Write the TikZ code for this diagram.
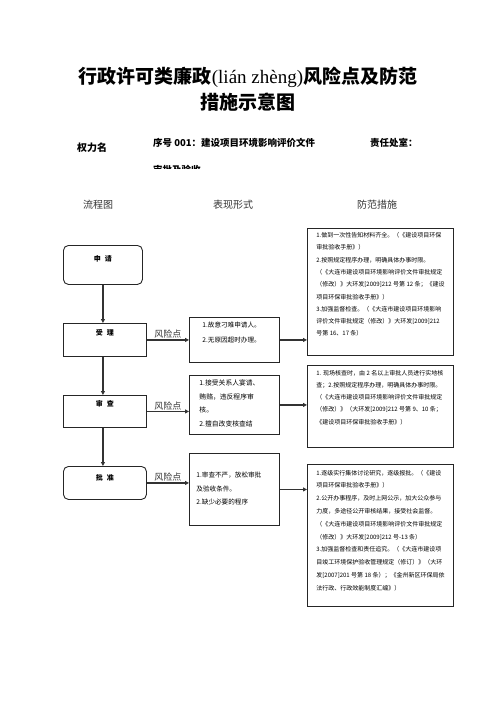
\documentclass[tikz,border=0pt]{standalone}
\usepackage{fontspec}
\setmainfont{Liberation Serif}
\newfontfamily\cjk{Noto Sans CJK SC}
\usetikzlibrary{arrows.meta}
\newcommand\tbox[5]{\parbox[c][#2][t]{#1}{\vspace*{#3}\raggedright\leftskip=#4\relax #5}}
\begin{document}
\begin{tikzpicture}[x=1pt,y=-1pt,
  conn/.style={draw=black!80, line width=1.1pt, -{Triangle[length=4pt,width=4pt]}},
  flowbox/.style={draw=black!85, line width=0.9pt, inner sep=0pt, anchor=north west,
    font=\cjk\bfseries\fontsize{7}{8}\selectfont, align=center},
  riskbox/.style={draw=black!85, line width=0.9pt, inner sep=0pt, anchor=north west},
  infobox/.style={draw=black!85, line width=0.9pt, inner sep=0pt, anchor=north west,
    font=\cjk\fontsize{6}{12.3}\selectfont},
  risklabel/.style={above, inner sep=1pt, font=\cjk\fontsize{9}{10}\selectfont, text=black!80},
  header/.style={anchor=base west, inner sep=0pt, font=\cjk\fontsize{10}{12}\selectfont, text=black!80}]
\useasboundingbox (0,0) rectangle (496,702);

% title
\node[font=\cjk\bfseries\fontsize{19}{22}\selectfont] (t1) at (248,77) {行政许可类廉政{\normalfont(lián zhèng)}风险点及防范};
\node[font=\cjk\bfseries\fontsize{19}{22}\selectfont] (t2) at (248,102) {措施示意图};

% info row
\node[anchor=base west, inner sep=0pt, font=\cjk\bfseries\fontsize{10}{12}\selectfont] (h1) at (77,151.5) {权力名};
\node[anchor=base west, inner sep=0pt, font=\cjk\bfseries\fontsize{9.5}{12}\selectfont] (h2) at (153,146.5) {序号 001：建设项目环境影响评价文件};
\node[anchor=base west, inner sep=0pt, font=\cjk\bfseries\fontsize{9.5}{12}\selectfont] (h3) at (370,146.5) {责任处室：};
\begin{scope}
\clip (140,150) rectangle (340,168);
\node[anchor=base west, inner sep=0pt, font=\cjk\bfseries\fontsize{9.5}{12}\selectfont] (h4) at (153,173) {审批及验收};
\end{scope}

% column headers
\node[header] (c1) at (83,208.5) {流程图};
\node[header] (c2) at (213,208.5) {表现形式};
\node[header] (c3) at (357,208.5) {防范措施};

% flow boxes
\node[flowbox, rounded corners=5pt, minimum width=79pt, text height=16pt, text depth=23pt] (a1) at (63,245) {申\hspace{4pt}请};
\node[flowbox, minimum width=83pt, text height=12pt, text depth=21pt] (a2) at (63,323) {受\hspace{4pt}理};
\node[flowbox, minimum width=83pt, text height=11pt, text depth=21pt] (a3) at (63,395) {审\hspace{4pt}查};
\node[flowbox, rounded corners=5pt, minimum width=83pt, text height=14pt, text depth=19pt] (a4) at (63,466) {批\hspace{4pt}准};

% risk boxes
\node[riskbox, font=\cjk\fontsize{6.6}{15}\selectfont] (r1) at (189,317)
  {\tbox{90pt}{45pt}{4.5pt}{13pt}{1.故意刁难申请人。\\2.无原因超时办理。}};
\node[riskbox, font=\cjk\fontsize{6.8}{13.7}\selectfont] (r2) at (189,375)
  {\tbox{90pt}{59pt}{4.3pt}{10pt}{1.接受关系人宴请、\\贿赂，违反程序审\\核。\\2.擅自改变核查结}};
\node[riskbox, font=\cjk\fontsize{6.6}{13.5}\selectfont] (r3) at (189,453)
  {\tbox{90pt}{72pt}{18.5pt}{7pt}{1.审查不严，放松审批\\及验收条件。\\2.缺少必要的程序}};

% measure boxes
\node[infobox] (p1) at (307,228)
  {\tbox{146pt}{127pt}{4pt}{9pt}{1.做到一次性告知材料齐全。（《建设项目环保\\审批验收手册》）\\2.按照规定程序办理，明确具体办事时限。\\（《大连市建设项目环境影响评价文件审批规定\\（修改）》大环发[2009]212 号第 12 条；《建设\\项目环保审批验收手册》）\\3.加强监督检查。（《大连市建设项目环境影响\\评价文件审批规定（修改）》大环发[2009]212\\号第 16、17 条）}};
\node[infobox] (p2) at (307,365)
  {\tbox{146pt}{82pt}{4.5pt}{9pt}{1. 现场核查时，由 2 名以上审批人员进行实地核\\查；2.按照规定程序办理，明确具体办事时限。\\（《大连市建设项目环境影响评价文件审批规定\\（修改）》（大环发[2009]212 号第 9、10 条；\\《建设项目环保审批验收手册》）}};
\node[infobox, font=\cjk\fontsize{6}{12.8}\selectfont] (p3) at (307,464)
  {\tbox{146pt}{142pt}{5.5pt}{9pt}{1.逐级实行集体讨论研究，逐级报批。（《建设\\项目环保审批验收手册》）\\2.公开办事程序，及时上网公示，加大公众参与\\力度，多途径公开审核结果，接受社会监督。\\（《大连市建设项目环境影响评价文件审批规定\\（修改）》大环发[2009]212 号-13 条）\\3.加强监督检查和责任追究。（《大连市建设项\\目竣工环境保护验收管理规定（修订）》（大环\\发[2007]201 号第 18 条）；《金州新区环保局依\\法行政、行政效能制度汇编》）}};

% vertical flow
\draw[conn] (a1.south) -- (a1.south |- a2.north);
\draw[conn] (a2.south -| a1.south) -- (a1.south |- a3.north);
\draw[conn] (a3.south -| a1.south) -- (a1.south |- a4.north);

% risk connectors
\draw[conn] (a2.east) -- node[risklabel] {风险点} (a2.east -| r1.west);
\draw[conn] (a3.east) -- node[risklabel] {风险点} (a3.east -| r2.west);
\draw[conn] (a4.east) -- node[risklabel] {风险点} (a4.east -| r3.west);

% measure connectors
\draw[conn] (r1.east) -- (r1.east -| p1.west);
\draw[conn] (r2.east) -- (r2.east -| p2.west);
\draw[conn] (r3.east) -- (r3.east -| p3.west);
\end{tikzpicture}
\end{document}
